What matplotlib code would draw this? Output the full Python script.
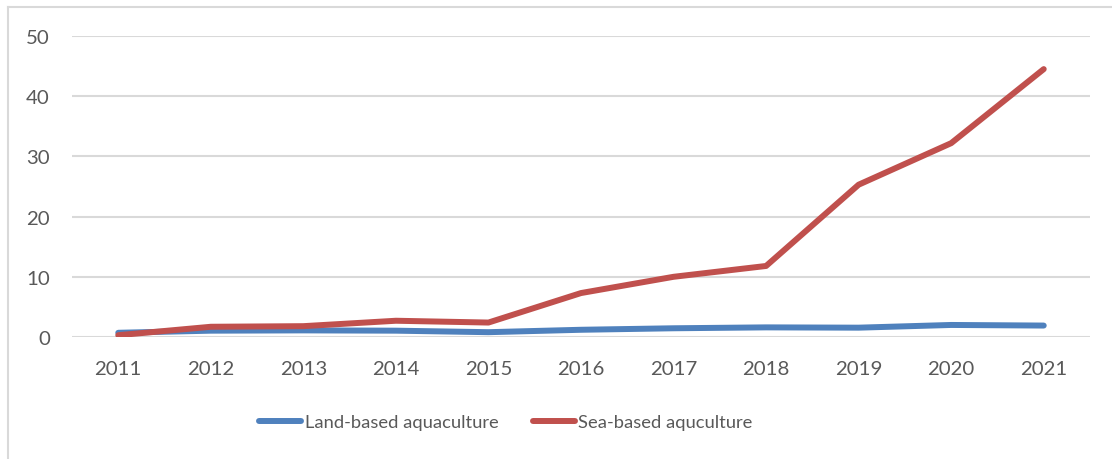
import matplotlib
matplotlib.use('Agg')
import matplotlib.pyplot as plt
from matplotlib.lines import Line2D

years = ['2011', '2012', '2013', '2014', '2015', '2016', '2017', '2018', '2019', '2020', '2021']
land_based = [0.7, 1.05, 1.1, 1.05, 0.8, 1.2, 1.45, 1.6, 1.55, 2.0, 1.9]
sea_based = [0.3, 1.7, 1.8, 2.7, 2.4, 7.3, 10.0, 11.8, 25.3, 32.2, 44.5]

BLUE = '#4F81BD'
RED = '#C0504D'
TEXT = '#595959'
GRID = '#D9D9D9'


def main():
    plt.rcParams['font.family'] = ['Lato', 'DejaVu Sans']
    fig = plt.figure(figsize=(11.12, 4.6), dpi=100)
    ax = fig.add_axes([72 / 1112, 1 - 338 / 460, (1090 - 72) / 1112, (338 - 37) / 460])

    x = list(range(len(years)))
    ax.plot(x, land_based, color=BLUE, lw=4.3, solid_capstyle='round', solid_joinstyle='round',
            label='Land-based aquaculture', zorder=3)
    ax.plot(x, sea_based, color=RED, lw=4.3, solid_capstyle='round', solid_joinstyle='round',
            label='Sea-based aquculture', zorder=4)

    ax.set_xlim(-0.5, len(years) - 0.5)
    ax.set_ylim(0, 50)
    ax.set_yticks(range(0, 51, 10))
    ax.set_xticks(x)
    ax.set_xticklabels(years)
    ax.grid(axis='y', color=GRID, lw=1.5)
    ax.set_axisbelow(True)
    for side in ax.spines.values():
        side.set_visible(False)
    ax.tick_params(length=0, labelsize=14.7, labelcolor=TEXT)
    ax.tick_params(axis='x', pad=16.5)
    ax.tick_params(axis='y', pad=16)

    leg = fig.legend(loc='center', bbox_to_anchor=(506 / 1112, 1 - 423 / 460), ncol=2, frameon=False,
                     fontsize=13.2, handlelength=2.3, handletextpad=0.17, columnspacing=1.9)
    for t in leg.get_texts():
        t.set_color(TEXT)

    # chart frame, top and left edges
    fig.add_artist(Line2D([8 / 1112, 8 / 1112], [0, 1 - 8 / 460], color='#D9D9D9', lw=1.5))
    fig.add_artist(Line2D([8 / 1112, 1], [1 - 8 / 460, 1 - 8 / 460], color='#D9D9D9', lw=1.5))

    fig.savefig('out.png', dpi=100)


if __name__ == '__main__':
    main()
